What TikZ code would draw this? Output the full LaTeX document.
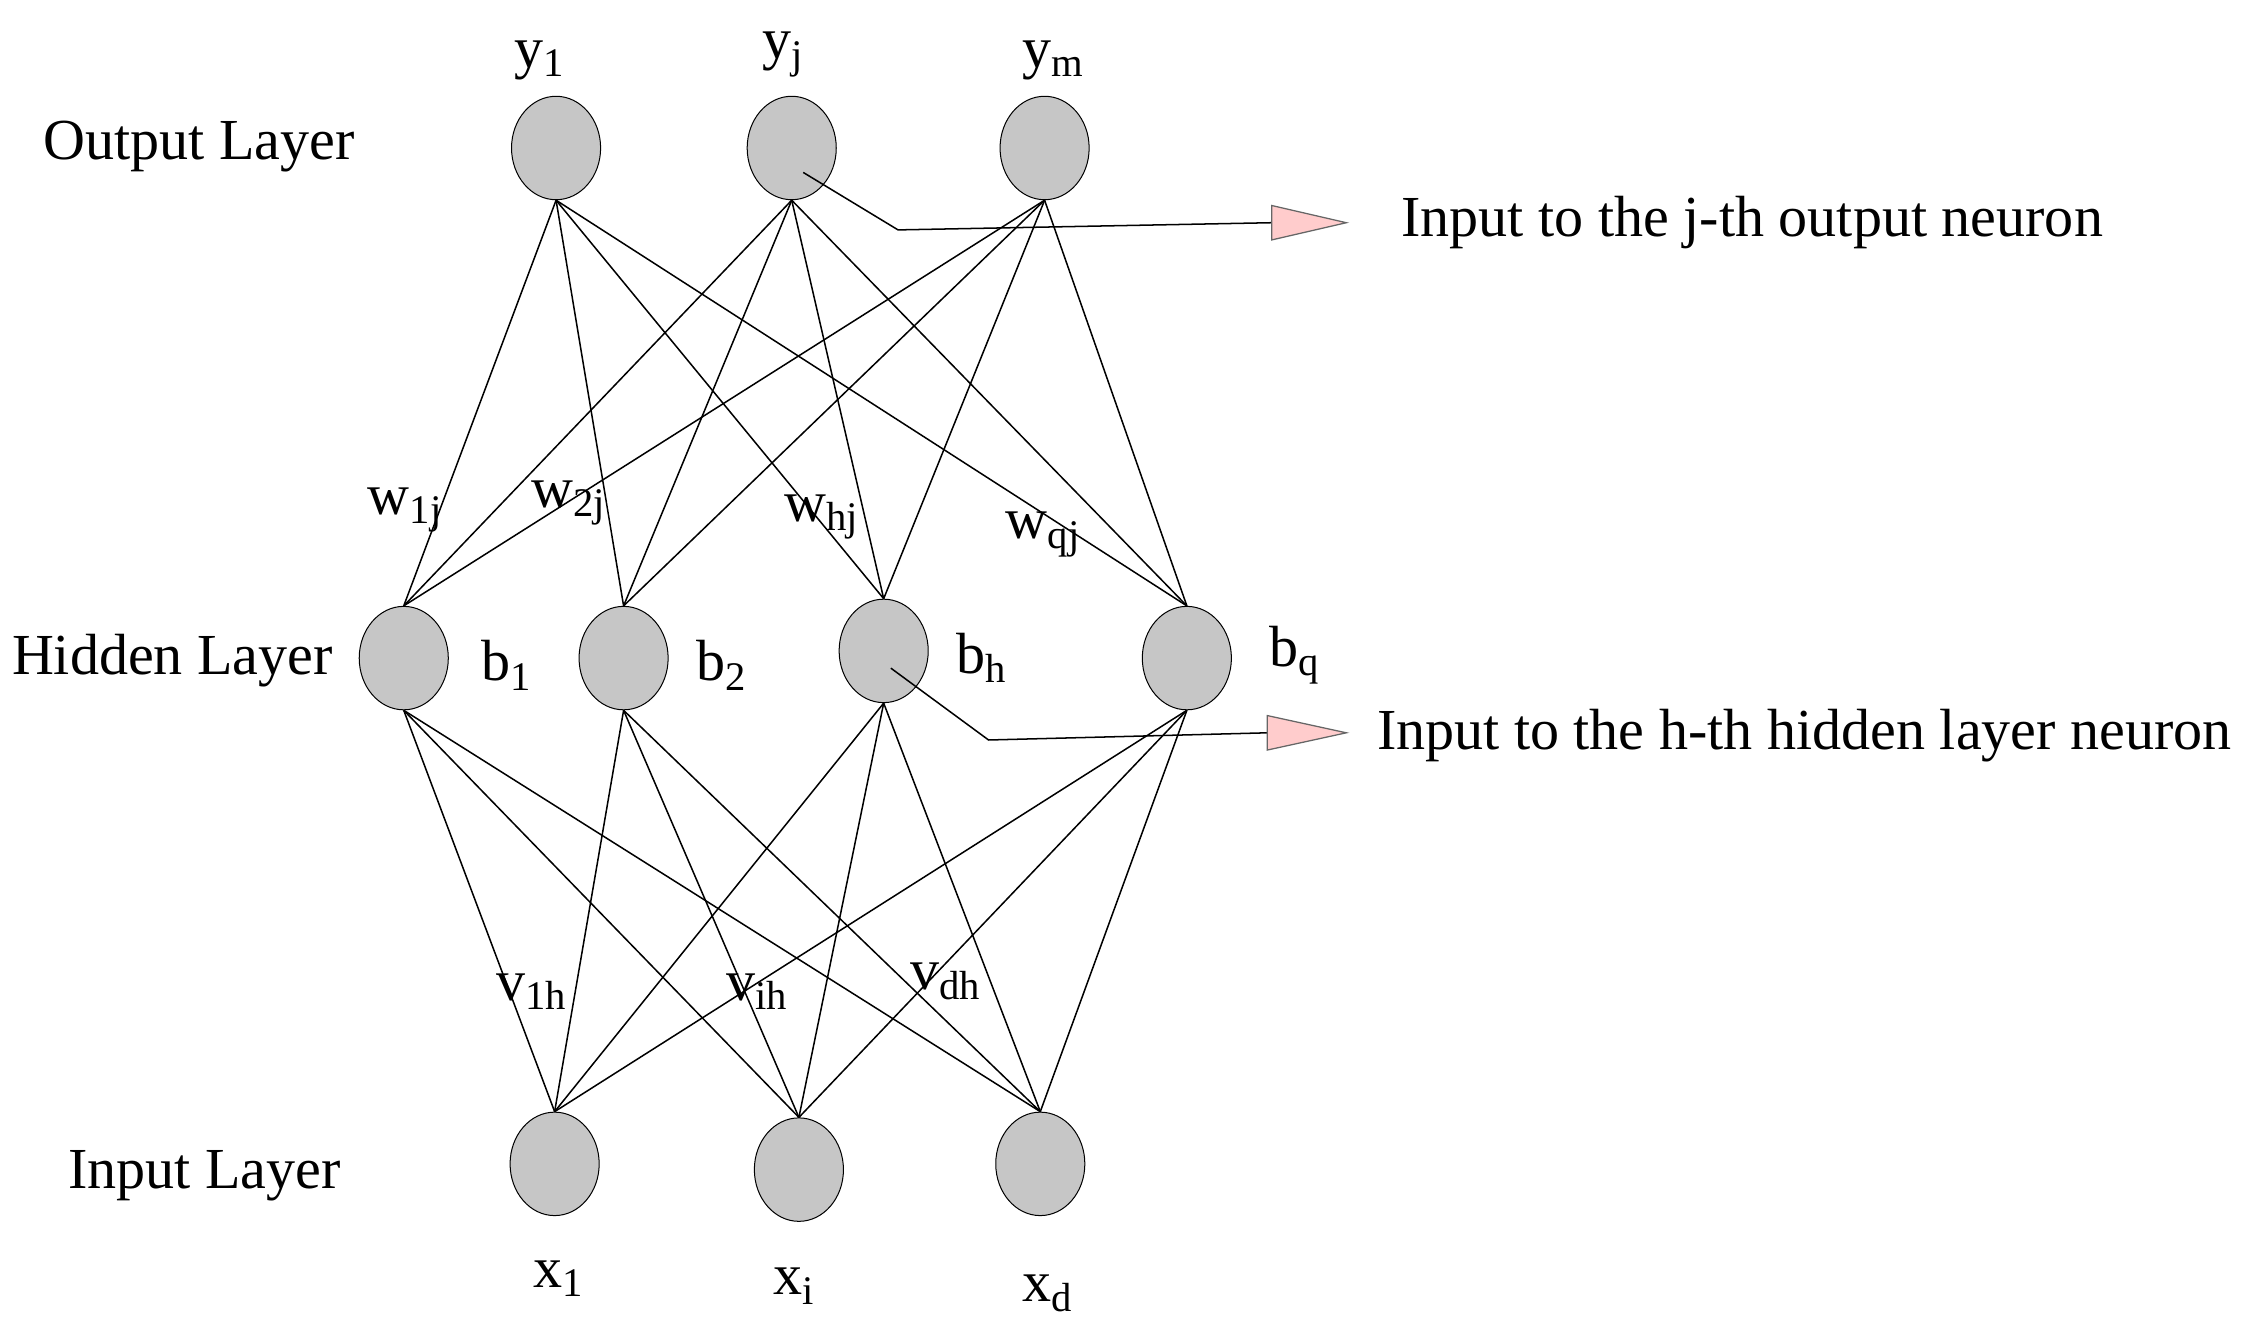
\documentclass[tikz,border=0pt]{standalone}
\usepackage{fontspec}
\setmainfont{Liberation Serif}
\begin{document}
\begin{tikzpicture}[x=0.02cm,y=-0.02cm,
  neuron/.style={ellipse,draw=black,fill=gray!45,minimum width=62*0.02cm,minimum height=72*0.02cm,inner sep=0pt},
  lbl/.style={font=\fontsize{23}{26}\selectfont,inner sep=0pt},
  edge/.style={draw=black,line width=0.6pt},
  tri/.style={draw=black!60,fill=pink!80,line width=0.5pt}]
\usetikzlibrary{shapes.geometric}
\useasboundingbox (0,0) rectangle (1568,933);
% output
\node[neuron] (o1) at (387,103) {};
\node[neuron] (o2) at (551,103) {};
\node[neuron] (o3) at (727,103) {};
% hidden
\node[neuron] (h1) at (281,458) {};
\node[neuron] (h2) at (434,458) {};
\node[neuron] (h3) at (615,453) {};
\node[neuron] (h4) at (826,458) {};
% input
\node[neuron] (i1) at (386,810) {};
\node[neuron] (i2) at (556,814) {};
\node[neuron] (i3) at (724,810) {};
\foreach \o in {o1,o2,o3}{\foreach \h in {h1,h2,h3,h4}{\draw[edge] (\o.south) -- (\h.north);}}
\foreach \h in {h1,h2,h3,h4}{\foreach \i in {i1,i2,i3}{\draw[edge] (\h.south) -- (\i.north);}}
% layer labels
\node[lbl,anchor=west] (lo) at (30,102) {Output Layer};
\node[lbl,anchor=west] (lh) at (8,460) {Hidden Layer};
\node[lbl,anchor=west] (li) at (47,818) {Input Layer};
% y and x labels
\node[lbl] (ty1) at (376,42) {y\textsubscript{1}};
\node[lbl] (ty2) at (545,38) {y\textsubscript{j}};
\node[lbl] (ty3) at (733,42) {y\textsubscript{m}};
\node[lbl] (tx1) at (389,890) {x\textsubscript{1}};
\node[lbl] (tx2) at (553,895) {x\textsubscript{i}};
\node[lbl] (tx3) at (729,900) {x\textsubscript{d}};
% b labels
\node[lbl] (b1) at (353,463) {b\textsubscript{1}};
\node[lbl] (b2) at (502,463) {b\textsubscript{2}};
\node[lbl] (b3) at (683,458) {b\textsubscript{h}};
\node[lbl] (b4) at (901,456) {b\textsubscript{q}};
% weights
\node[lbl] (w1) at (282,355) {w\textsubscript{1j}};
\node[lbl] (w2) at (396,350) {w\textsubscript{2j}};
\node[lbl] (w3) at (572,360) {w\textsubscript{hj}};
\node[lbl] (w4) at (726,372) {w\textsubscript{qj}};
\node[lbl] (v1) at (370,690) {v\textsubscript{1h}};
\node[lbl] (v2) at (527,690) {v\textsubscript{ih}};
\node[lbl] (v3) at (658,683) {v\textsubscript{dh}};
% annotation arrows
\coordinate (a1) at (625,160);
\coordinate (a1e) at (885,155);
\draw[edge] (o2.center) ++(8,17) -- (a1) -- (a1e);
\draw[tri] (885,143) -- (937,155) -- (885,167) -- cycle;
\node[lbl,anchor=west] (t1) at (975,155) {Input to the j-th output neuron};
\coordinate (a2) at (688,515);
\coordinate (a2e) at (882,510);
\draw[edge] (h3.center) ++(5,12) -- (a2) -- (a2e);
\draw[tri] (882,498) -- (937,510) -- (882,522) -- cycle;
\node[lbl,anchor=west] (t2) at (958,512) {Input to the h-th hidden layer neuron};
\end{tikzpicture}
\end{document}
